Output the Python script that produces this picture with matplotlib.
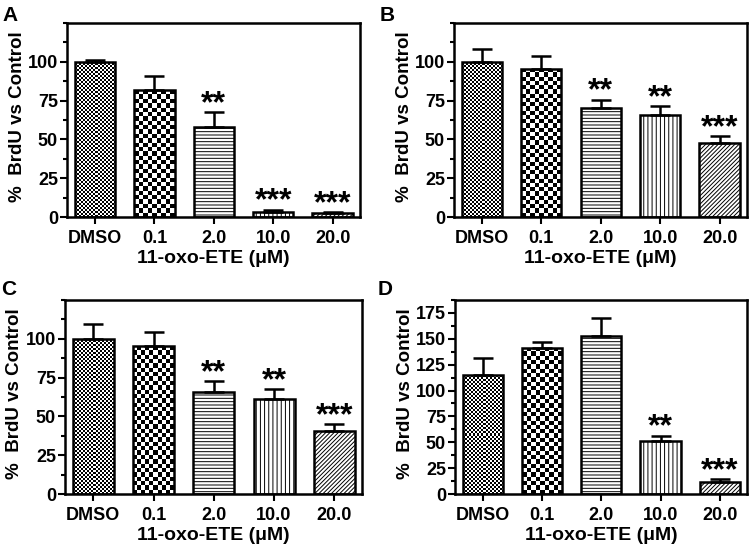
"""Four-panel BrdU incorporation bar charts (11-oxo-ETE dose response)."""

import matplotlib
matplotlib.use("Agg")
import matplotlib.pyplot as plt
import numpy as np
from matplotlib.ticker import FixedLocator

plt.rcParams["font.family"] = ["Liberation Sans", "DejaVu Sans"]
plt.rcParams["font.weight"] = "bold"
plt.rcParams["hatch.linewidth"] = 0.7

DOSES = ["DMSO", "0.1", "2.0", "10.0", "20.0"]

MEAN_A = [100.0, 81.5, 57.8, 3.5, 2.5]
SEM_A = [1.3, 9.1, 9.6, 1.3, 0.7]
STARS_A = ["", "", "**", "***", "***"]

MEAN_B = [100.0, 95.6, 70.1, 65.6, 47.6]
SEM_B = [8.1, 8.2, 5.5, 5.8, 4.4]
STARS_B = ["", "", "**", "**", "***"]

MEAN_C = [100.0, 95.1, 66.0, 61.0, 40.9]
SEM_C = [9.8, 9.4, 6.6, 6.7, 4.2]
STARS_C = ["", "", "**", "**", "***"]

MEAN_D = [114.8, 141.5, 152.9, 51.4, 11.4]
SEM_D = [16.9, 5.2, 16.9, 4.9, 3.2]
STARS_D = ["", "", "", "**", "***"]

# fill per dose: ("checker", cell px) or ("hatch", pattern)
FILLS = [("checker", 2.0), ("checker", 4.3), ("hatch", "-----"),
         ("hatch", "||||"), ("hatch", "////////")]


def checker_fill(ax, bar, cell_px):
    x0, y0 = bar.get_x(), bar.get_y()
    w, h = bar.get_width(), bar.get_height()
    p0 = ax.transData.transform((x0, y0))
    p1 = ax.transData.transform((x0 + w, y0 + h))
    nx = max(1, int(round((p1[0] - p0[0]) / cell_px)))
    ny = max(1, int(round((p1[1] - p0[1]) / cell_px)))
    grid = np.add.outer(np.arange(ny), np.arange(nx)) % 2
    im = ax.imshow(grid, cmap="gray", vmin=0, vmax=1, origin="lower",
                   extent=(x0, x0 + w, y0, y0 + h), aspect="auto",
                   interpolation="nearest", zorder=1)
    im.set_clip_path(bar)


def panel(fig, rect, letter, letter_xy, mean, sem, stars, ymax, yticks):
    ax = fig.add_axes(rect)
    x = np.arange(len(DOSES))
    ax.set_xlim(-0.47, 4.46)
    ax.set_ylim(0, ymax)
    bars = ax.bar(x, mean, width=0.68, color="white", edgecolor="black",
                  linewidth=1.8, zorder=2)
    for bar, (kind, spec) in zip(bars, FILLS):
        if kind == "checker":
            bar.set_facecolor("none")
            checker_fill(ax, bar, spec)
        else:
            bar.set_hatch(spec)
    ax.set_xlim(-0.47, 4.46)
    ax.set_ylim(0, ymax)
    ax.errorbar(x, mean, yerr=[np.zeros(len(x)), sem], fmt="none",
                ecolor="black", elinewidth=1.8, capsize=7, capthick=1.8,
                zorder=3)
    for xi, m, s, st in zip(x, mean, sem, stars):
        if st:
            ax.annotate(st, (xi, m + s), xytext=(0, -5), textcoords="offset points",
                        ha="center", va="bottom", fontsize=23, fontweight="bold")

    ax.set_xticks(x)
    ax.set_xticklabels(DOSES, fontsize=13, fontweight="bold")
    ax.yaxis.set_major_locator(FixedLocator(yticks))
    ax.yaxis.set_minor_locator(FixedLocator(np.arange(0, ymax + 0.1, 12.5)))
    ax.tick_params(axis="y", which="major", length=5, width=1.5, pad=1.5,
                   labelsize=13)
    ax.tick_params(axis="y", which="minor", length=3, width=1.5)
    ax.tick_params(axis="x", length=5, width=1.5, pad=4)
    for lab in ax.get_yticklabels():
        lab.set_fontweight("bold")
    for sp in ax.spines.values():
        sp.set_linewidth(1.8)

    ax.set_xlabel("11-oxo-ETE (\u03bcM)", fontsize=14, fontweight="bold")
    ax.xaxis.label.set_va("center")
    ax.xaxis.set_label_coords(0.5, -0.215)
    ax.set_ylabel("%  BrdU vs Control", fontsize=13.5, fontweight="bold")
    ax.yaxis.label.set_va("center")
    ax.yaxis.set_label_coords(-0.17, 0.515)
    fig.text(letter_xy[0], letter_xy[1], letter, fontsize=15,
             fontweight="bold", ha="left", va="top")
    return ax


def main():
    fig = plt.figure(figsize=(7.54, 5.56), dpi=100)
    std_ticks = [0, 25, 50, 75, 100]
    panel(fig, [0.0889, 0.6097, 0.3886, 0.349], "A", (0.003, 0.99),
          MEAN_A, SEM_A, STARS_A, 125, std_ticks)
    panel(fig, [0.602, 0.6097, 0.3886, 0.349], "B", (0.503, 0.99),
          MEAN_B, SEM_B, STARS_B, 125, std_ticks)
    panel(fig, [0.0862, 0.1115, 0.3939, 0.349], "C", (0.001, 0.497),
          MEAN_C, SEM_C, STARS_C, 125, std_ticks)
    panel(fig, [0.6034, 0.1115, 0.3873, 0.349], "D", (0.501, 0.497),
          MEAN_D, SEM_D, STARS_D, 187.5, list(range(0, 176, 25)))
    fig.savefig("out.png", dpi=100)
    plt.close(fig)


if __name__ == "__main__":
    main()
